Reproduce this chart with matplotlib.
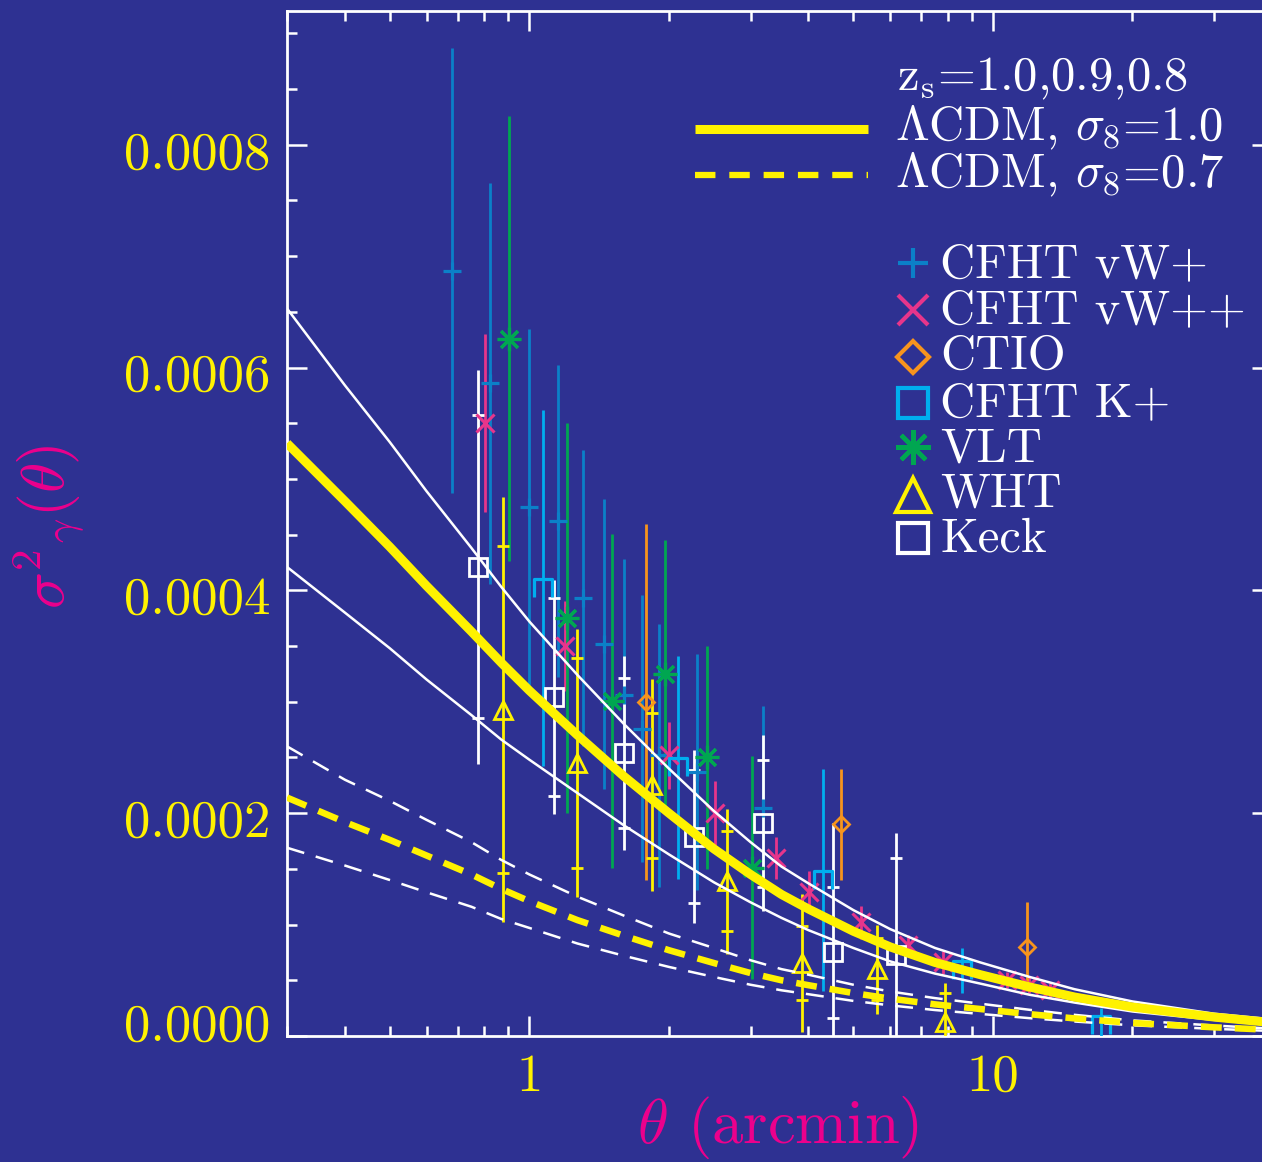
import numpy as np
import matplotlib.pyplot as plt
import matplotlib.transforms as mtransforms
from matplotlib.lines import Line2D
from matplotlib.path import Path
from matplotlib.ticker import FixedLocator, MultipleLocator, NullFormatter, FixedFormatter

plt.rcParams['font.family'] = 'cmr10'
plt.rcParams['mathtext.fontset'] = 'cm'
plt.rcParams['axes.unicode_minus'] = False
plt.rcParams['axes.formatter.use_mathtext'] = True

BG = '#2E3192'
YELLOW = '#FFF200'
MAGENTA = '#EC008C'
C_VW = '#0B80C8'
C_VWPP = '#E7358B'
C_CTIO = '#F7941D'
C_KP = '#00AEEF'
C_VLT = '#00A651'
C_WHT = YELLOW
C_KECK = 'white'

# theta in arcmin, shear variance in units of 1e-4
th_model = [0.30, 0.40, 0.50, 0.60, 0.75, 0.87, 1.00, 1.27, 1.60, 2.00, 2.50, 3.00, 3.50,
            4.00, 5.00, 6.00, 7.50, 9.40, 12.0, 15.0, 20.0, 30.0, 40.0]
# LCDM sigma8 = 1.0: zs = 0.9 (thick), zs = 1.0 and 0.8 (thin)
v_s10_z09 = [5.32, 4.80, 4.39, 4.04, 3.63, 3.35, 3.10, 2.70, 2.33, 2.00, 1.68, 1.45, 1.27,
             1.14, 0.94, 0.80, 0.66, 0.55, 0.44, 0.35, 0.26, 0.17, 0.12]
v_s10_z10 = [6.53, 5.84, 5.33, 4.89, 4.38, 4.03, 3.72, 3.24, 2.80, 2.40, 2.02, 1.74, 1.52,
             1.37, 1.13, 0.96, 0.79, 0.66, 0.53, 0.42, 0.31, 0.20, 0.15]
v_s10_z08 = [4.21, 3.80, 3.48, 3.20, 2.88, 2.66, 2.48, 2.18, 1.89, 1.63, 1.38, 1.20, 1.06,
             0.95, 0.79, 0.67, 0.56, 0.47, 0.37, 0.30, 0.22, 0.145, 0.10]
# LCDM sigma8 = 0.7
v_s07_z09 = [2.14, 1.92, 1.76, 1.62, 1.45, 1.32, 1.21, 1.04, 0.90, 0.77, 0.655, 0.565, 0.50,
             0.456, 0.385, 0.336, 0.284, 0.242, 0.196, 0.158, 0.117, 0.078, 0.055]
v_s07_z10 = [2.60, 2.30, 2.11, 1.94, 1.74, 1.58, 1.45, 1.25, 1.08, 0.92, 0.79, 0.68, 0.60,
             0.55, 0.46, 0.40, 0.34, 0.29, 0.235, 0.19, 0.14, 0.094, 0.066]
v_s07_z08 = [1.69, 1.53, 1.40, 1.29, 1.16, 1.05, 0.97, 0.83, 0.72, 0.62, 0.53, 0.46, 0.41,
             0.375, 0.315, 0.275, 0.233, 0.198, 0.16, 0.13, 0.096, 0.064, 0.045]

# surveys
vw_th = [0.680, 0.821, 1.00, 1.151, 1.303, 1.452, 1.598, 1.751, 1.902, 2.302, 3.19]
vw_v = [6.87, 5.86, 4.75, 4.62, 3.93, 3.52, 3.06, 2.76, 2.52, 2.37, 2.05]
vw_e = [2.0, 1.8, 1.6, 1.4, 1.33, 1.3, 1.22, 1.2, 1.18, 1.06, 0.91]

vwpp_th = [0.801, 1.196, 2.00, 2.51, 3.40, 4.01, 5.20, 6.56, 7.81, 10.7, 11.96, 13.3]
vwpp_v = [5.50, 3.50, 2.52, 2.00, 1.60, 1.29, 1.02, 0.82, 0.66, 0.50, 0.46, 0.41]
vwpp_e = [0.80, 0.40, 0.30, 0.29, 0.19, 0.19, 0.15, 0.09, 0.10, 0.07, 0.07, 0.07]

ctio_th = [1.783, 4.70, 11.84]
ctio_v = [3.00, 1.90, 0.80]
ctio_e = [1.6, 0.5, 0.4]

kp_th = [1.07, 2.095, 4.29, 8.56, 17.1]
kp_v = [4.02, 2.41, 1.40, 0.59, 0.10]
kp_e = [1.6, 1.0, 1.0, 0.2, 0.15]

vlt_th = [0.905, 1.206, 1.509, 1.964, 2.415, 3.02]
vlt_v = [6.26, 3.75, 3.01, 3.25, 2.50, 1.51]
vlt_e = [2.0, 1.75, 1.5, 1.2, 1.0, 1.0]

wht_th = [0.876, 1.268, 1.837, 2.673, 3.87, 5.61, 7.88]
wht_v = [2.93, 2.45, 2.25, 1.39, 0.655, 0.60, 0.13]
wht_ein = [1.47, 0.94, 0.65, 0.45, 0.33, 0.28, 0.26]
wht_eout = [1.91, 1.20, 0.95, 0.65, 0.62, 0.40, 0.35]

keck_th = [0.773, 1.132, 1.598, 2.26, 3.19, 4.52, 6.19]
keck_v = [4.21, 3.04, 2.54, 1.79, 1.91, 0.75, 0.73]
keck_ein = [1.36, 0.89, 0.67, 0.60, 0.57, 0.59, 0.87]
keck_eout = [1.77, 1.05, 0.87, 0.78, 0.79, 1.16, 1.09]

S = 1e-4
W, H = 1262, 1162

fig = plt.figure(figsize=(W / 100, H / 100), dpi=100, facecolor=BG)
ax = fig.add_axes([287 / W, 1 - 1036 / H, (1272 - 287) / W, (1036 - 11) / H])
ax.set_facecolor(BG)

# open-bottom box used for the CFHT K+ points
cap_box = Path([(-1, -1), (-1, 1), (1, 1), (1, -1)],
               [Path.MOVETO, Path.LINETO, Path.LINETO, Path.LINETO])


def survey(th, v, e, color, marker, ms, z=3, mew=2):
    th = np.array(th)
    v = np.array(v) * S
    e = np.array(e) * S
    ax.errorbar(th, v, yerr=e, fmt='none', ecolor=color, elinewidth=2, capsize=0, zorder=z)
    ax.plot(th, v, ls='none', marker=marker, ms=ms, mew=mew, mec=color, mfc='none',
            zorder=z + 0.1)


def survey2(th, v, ein, eout, color, marker, ms, z=3):
    th = np.array(th)
    v = np.array(v) * S
    ein = np.array(ein) * S
    eout = np.array(eout) * S
    ax.errorbar(th, v, yerr=eout, fmt='none', ecolor=color, elinewidth=2, capsize=0, zorder=z)
    ax.plot(th, v + ein, ls='none', marker='_', ms=9, mew=2, color=color, zorder=z)
    ax.plot(th, v - ein, ls='none', marker='_', ms=9, mew=2, color=color, zorder=z)
    ax.plot(th, v, ls='none', marker=marker, ms=ms, mew=2, mec=color, mfc='none', zorder=z + 0.1)


survey(vw_th, vw_v, vw_e, C_VW, '+', 12.5, mew=2.3)
survey(vwpp_th, vwpp_v, vwpp_e, C_VWPP, 'x', 12.5, mew=2.2)
survey(ctio_th, ctio_v, ctio_e, C_CTIO, 'D', 8.5)
survey(kp_th, kp_v, kp_e, C_KP, cap_box, 13, mew=2.3)
survey(vlt_th, vlt_v, vlt_e, C_VLT, (8, 2, 0), 17, mew=2.3)
survey2(wht_th, wht_v, wht_ein, wht_eout, C_WHT, '^', 12.5)
survey2(keck_th, keck_v, keck_ein, keck_eout, C_KECK, 's', 13)

# model curves
th_m = np.array(th_model)
ax.plot(th_m, np.array(v_s10_z10) * S, color='white', lw=1.8, zorder=5)
ax.plot(th_m, np.array(v_s10_z08) * S, color='white', lw=1.8, zorder=5)
ax.plot(th_m, np.array(v_s10_z09) * S, color=YELLOW, lw=6.5, zorder=6,
        solid_capstyle='butt', solid_joinstyle='round')
ax.plot(th_m, np.array(v_s07_z10) * S, color='white', lw=1.8, dashes=(7.2, 4.8), zorder=5)
ax.plot(th_m, np.array(v_s07_z08) * S, color='white', lw=1.8, dashes=(7.2, 4.8), zorder=5)
ax.plot(th_m, np.array(v_s07_z09) * S, color=YELLOW, lw=4.7, dashes=(3.2, 2.0), zorder=6)

# axes
ax.set_xscale('log')
ax.set_xlim(0.3, 40)
ax.set_ylim(0, 0.00092)
for sp in ax.spines.values():
    sp.set_color('white')
    sp.set_linewidth(2)

ax.xaxis.set_major_locator(FixedLocator([1, 10]))
ax.xaxis.set_major_formatter(FixedFormatter(['1', '10']))
ax.xaxis.set_minor_locator(FixedLocator([0.3, 0.4, 0.5, 0.6, 0.7, 0.8, 0.9,
                                         2, 3, 4, 5, 6, 7, 8, 9, 20, 30, 40]))
ax.xaxis.set_minor_formatter(NullFormatter())

yt = [0.0, 0.0002, 0.0004, 0.0006, 0.0008]
ax.yaxis.set_major_locator(FixedLocator(yt))
ax.yaxis.set_major_formatter(FixedFormatter(['%.4f' % t for t in yt]))
ax.yaxis.set_minor_locator(MultipleLocator(0.00005))

ax.tick_params(which='both', direction='in', color='white', width=1.8,
               top=True, right=True, labelcolor=YELLOW, labelsize=38)
ax.tick_params(which='major', length=14.5, pad=12)
ax.tick_params(which='minor', length=7)
ax.tick_params(axis='x', pad=13)

# nudge the y tick labels the way the original axis prints them
down = mtransforms.ScaledTranslation(0, -0.05, fig.dpi_scale_trans)
for lab in ax.yaxis.get_majorticklabels():
    lab.set_transform(lab.get_transform() + down)
first = ax.yaxis.get_majorticklabels()[0]
first.set_transform(first.get_transform() + mtransforms.ScaledTranslation(0, 0.19, fig.dpi_scale_trans))


def fx(px):
    return px / W


def fy(py):
    return 1 - py / H


# axis titles
fig.text(fx(778), fy(1143), r'$\theta$ (arcmin)', color=MAGENTA, fontsize=45,
         ha='center', va='baseline')
fig.text(fx(48), fy(527), r'$\sigma^{2}{}_{\gamma}(\theta)$', color=MAGENTA, fontsize=44,
         ha='center', va='center', rotation=90)

# legend: models
LFS = 35
fig.text(fx(897), fy(90), r'z$_{\rm s}$=1.0,0.9,0.8', color='white', fontsize=LFS,
         va='baseline')
fig.add_artist(Line2D([fx(695), fx(868)], [fy(129), fy(129)], transform=fig.transFigure,
                      color=YELLOW, lw=6.5, solid_capstyle='butt'))
fig.text(fx(895), fy(140), r'$\Lambda$CDM, $\sigma_8$=1.0', color='white', fontsize=LFS,
         va='baseline')
fig.add_artist(Line2D([fx(695), fx(868)], [fy(175), fy(175)], transform=fig.transFigure,
                      color=YELLOW, lw=4.5, dashes=(3.27, 2.22)))
fig.text(fx(895), fy(187), r'$\Lambda$CDM, $\sigma_8$=0.7', color='white', fontsize=LFS,
         va='baseline')

# legend: surveys
entries = [('CFHT vW+', C_VW, '+', 21, 263, 277),
           ('CFHT vW++', C_VWPP, 'x', 21, 310, 323),
           ('CTIO', C_CTIO, 'D', 16, 357, 369),
           ('CFHT K+', C_KP, 's', 22, 403, 416),
           ('VLT', C_VLT, (8, 2, 0), 25, 447, 462),
           ('WHT', C_WHT, '^', 24, 495, 507),
           ('Keck', C_KECK, 's', 22, 538, 552)]
for name, col, mk, ms, ym, yb in entries:
    fig.add_artist(Line2D([fx(913)], [fy(ym)], transform=fig.transFigure, ls='none',
                          marker=mk, ms=ms, mew=3, mec=col, mfc='none'))
    fig.text(fx(940), fy(yb), name, color='white', fontsize=LFS, va='baseline')

fig.savefig('out.png', dpi=100, facecolor=BG)
